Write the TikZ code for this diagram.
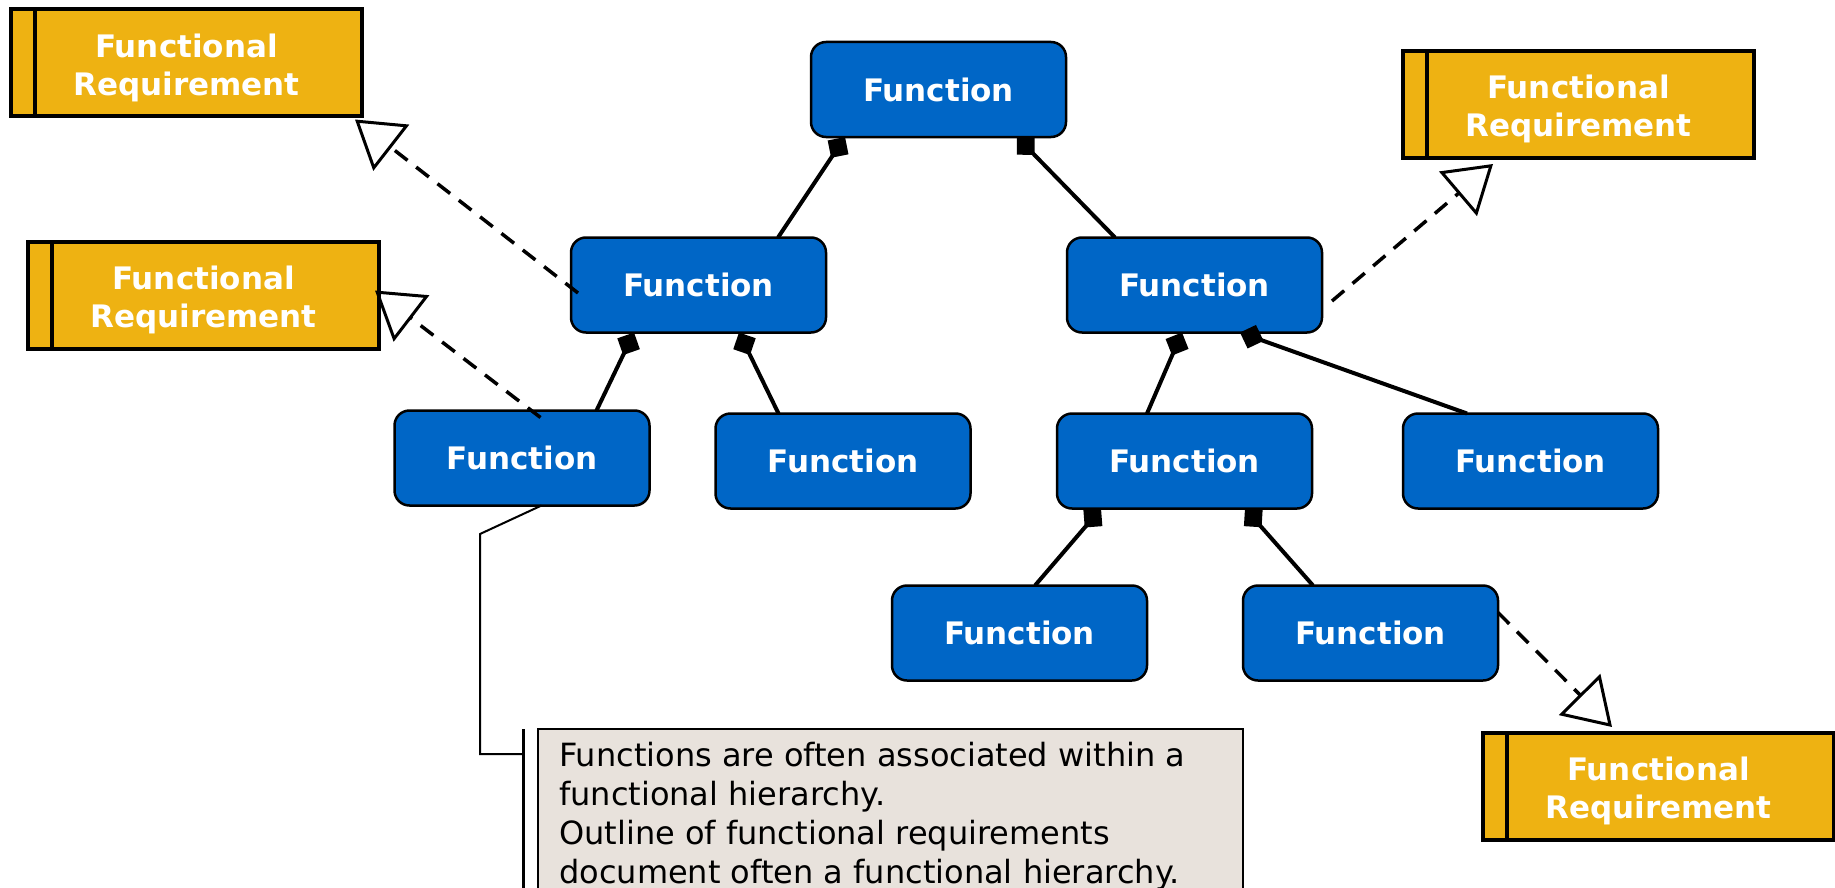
\documentclass[tikz,border=0pt]{standalone}
\usepackage{fontspec}
\setmainfont{DejaVu Sans}
\usetikzlibrary{arrows.meta}
\definecolor{fnblue}{RGB}{0,102,198}
\definecolor{reqgold}{RGB}{238,178,18}
\definecolor{notefill}{RGB}{232,226,220}
% two-line requirement label, nudged down a little inside its box
\newcommand{\reqlabel}{\rule{0pt}{33pt}Functional\\Requirement}

\begin{document}
\begin{tikzpicture}[x=1pt,y=-1pt,
  func/.style={draw=black, line width=2.5pt, fill=fnblue, rounded corners=15pt,
    minimum width=255pt, minimum height=95pt, inner sep=0pt, outer sep=0pt,
    text=white, font=\bfseries\fontsize{31}{38}\selectfont},
  req/.style={draw=black, line width=4pt, fill=reqgold,
    minimum width=351pt, minimum height=107pt, inner sep=0pt, outer sep=0pt,
    text=white, align=center, font=\bfseries\fontsize{31}{38}\selectfont},
  reqbar/.style={line width=4pt},
  comp/.style={line width=4pt, {Diamond[length=25pt,width=25pt]}-},
  realize/.style={line width=3.5pt, dash pattern=on 16pt off 11pt,
    -{Triangle[open, length=46pt, width=58pt, line width=3pt]}},
  notebox/.style={draw=black, line width=2pt, fill=notefill, inner sep=0pt, outer sep=0pt,
    minimum width=705pt, minimum height=200pt, anchor=north west},
  notetext/.style={anchor=north west, align=left, inner sep=0pt,
    font=\fontsize{32}{39}\selectfont},
  callout/.style={line width=2pt},
  bracket/.style={line width=3pt}
]
\useasboundingbox (0,0) rectangle (1835,888);
\clip (0,0) rectangle (1835,888);
\fill[white] (0,0) rectangle (1835,888);

% functional hierarchy
\node[func] (top) at (938.5,89.5) {Function};
\node[func] (f2a) at (698.5,285) {Function};
\node[func] (f2b) at (1194.5,285) {Function};
\node[func] (f3a) at (522,458) {Function};
\node[func] (f3b) at (843,461) {Function};
\node[func] (f3c) at (1184.5,461) {Function};
\node[func] (f3d) at (1530.5,461) {Function};
\node[func] (f4a) at (1019.5,633) {Function};
\node[func] (f4b) at (1370.5,633) {Function};

% requirements
\node[req] (r1) at (186.5,63) {\reqlabel};
\node[req] (r2) at (203.5,295.5) {\reqlabel};
\node[req] (r3) at (1578.5,104.5) {\reqlabel};
\node[req] (r4) at (1658.5,786.5) {\reqlabel};
\foreach \r in {r1,r2,r3,r4}
  \draw[reqbar] ([xshift=24pt]\r.north west) -- ([xshift=24pt]\r.south west);

% composition links
\draw[comp] ([shift={(34,0)}]top.south west) -- ([shift={(207,0)}]f2a.north west);
\draw[comp] ([shift={(-49,0)}]top.south east) -- ([shift={(48,0)}]f2b.north west);
\draw[comp] ([shift={(63,0)}]f2a.south west) -- ([shift={(202,0)}]f3a.north west);
\draw[comp] ([shift={(168,0)}]f2a.south west) -- ([shift={(63,0)}]f3b.north west);
\draw[comp] ([shift={(115,0)}]f2b.south west) -- ([shift={(90,0)}]f3c.north west);
\draw[comp] ([shift={(173,0)}]f2b.south west) -- ([shift={(64,0)}]f3d.north west);
\draw[comp] ([shift={(44,0)}]f3c.south west) -- ([shift={(143,0)}]f4a.north west);
\draw[comp] ([shift={(188,0)}]f3c.south west) -- ([shift={(70,0)}]f4b.north west);

% realization links
\draw[realize] ([shift={(7,8)}]f2a.west) -- ([shift={(-7,3)}]r1.south east);
\draw[realize] ([shift={(146,7)}]f3a.north west) -- ([shift={(-4,-5)}]r2.east);
\draw[realize] ([shift={(10,16)}]f2b.east) -- ([shift={(90,6)}]r3.south west);
\draw[realize] ([shift={(0,27)}]f4b.north east) -- ([shift={(129,-6)}]r4.north west);

% note with callout
\node[notebox] (note) at (538,729) {};
\node[notetext] (notetext) at ([shift={(21,13)}]note.north west)
  {Functions are often associated within a\\
   functional hierarchy.\\
   Outline of functional requirements\\
   document often a functional hierarchy.};
\coordinate (bend1) at (480,534);
\coordinate (bend2) at (480,754);
\coordinate (brmid) at (523,754);
\coordinate (brtop) at (523,729);
\coordinate (brbot) at (523,900);
\draw[callout] ([shift={(147,0)}]f3a.south west) -- (bend1) -- (bend2) -- (brmid);
\draw[bracket] (brtop) -- (brbot);
\end{tikzpicture}
\end{document}
